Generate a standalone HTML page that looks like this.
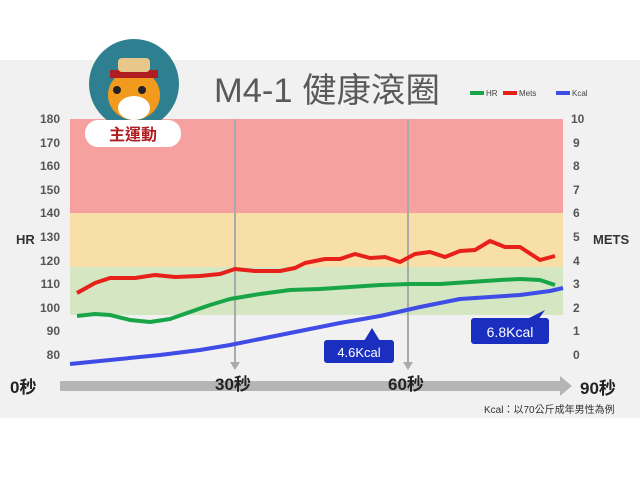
<!DOCTYPE html><html><head><meta charset="utf-8"><style>body{margin:0;width:640px;height:480px;background:#fff;overflow:hidden}</style></head><body>
<svg width="640" height="480" xmlns="http://www.w3.org/2000/svg" style="font-family:'Liberation Sans','Noto Sans CJK TC',sans-serif">
<rect x="0" y="60" width="640" height="358" fill="#f1f1f1"/>
<rect x="70" y="119" width="493" height="94" fill="#f6a0a0"/>
<rect x="70" y="213" width="493" height="54" fill="#f8dfa8"/>
<rect x="70" y="267" width="493" height="48" fill="#d5e6c3"/>
<g fill="#555" font-size="12" font-weight="bold" text-anchor="end">
<text x="60" y="123">180</text><text x="60" y="147">170</text><text x="60" y="170">160</text><text x="60" y="194">150</text><text x="60" y="217">140</text><text x="60" y="241">130</text><text x="60" y="265">120</text><text x="60" y="288">110</text><text x="60" y="312">100</text><text x="60" y="335">90</text><text x="60" y="359">80</text></g>
<g fill="#555" font-size="12" font-weight="bold">
<text x="571" y="123">10</text><text x="573" y="147">9</text><text x="573" y="170">8</text><text x="573" y="194">7</text><text x="573" y="217">6</text><text x="573" y="241">5</text><text x="573" y="265">4</text><text x="573" y="288">3</text><text x="573" y="312">2</text><text x="573" y="335">1</text><text x="573" y="359">0</text></g>
<text x="16" y="244" font-size="13" font-weight="bold" fill="#333">HR</text>
<text x="593" y="244" font-size="13" font-weight="bold" fill="#333">METS</text>
<g stroke="#aaa" stroke-width="2"><line x1="235" y1="119" x2="235" y2="364"/><line x1="408" y1="119" x2="408" y2="364"/></g>
<polygon points="230,362 240,362 235,370" fill="#aaa"/><polygon points="403,362 413,362 408,370" fill="#aaa"/>
<polyline fill="none" stroke="#e8201a" stroke-width="4" stroke-linejoin="round" points="77,293 95,283 110,278 135,278 155,275 175,277 200,276 220,274 235,269 255,271 280,271 295,268 305,263 325,259 340,259 355,254 370,258 385,257 400,262 415,254 430,252 445,257 460,251 475,250 490,241 505,247 520,247 540,260 555,256"/>
<polyline fill="none" stroke="#18a548" stroke-width="4" stroke-linejoin="round" points="77,316 95,314 110,315 130,320 150,322 170,319 190,312 210,305 230,299 260,294 290,290 320,289 350,287 380,285 410,284 440,284 470,282 500,280 520,279 540,280 555,285"/>
<polyline fill="none" stroke="#3f4de6" stroke-width="4" stroke-linejoin="round" points="70,364 120,359 160,355 200,350 230,345 260,339 300,331 340,323 380,316 420,307 460,299 490,297 520,295 550,291 563,288"/>
<polygon points="60,381 560,381 560,376 572,386 560,396 560,391 60,391" fill="#b5b5b5"/>
<g font-size="17" font-weight="bold" fill="#222"><text x="10" y="393">0秒</text><text x="215" y="390">30秒</text><text x="388" y="390">60秒</text><text x="580" y="394">90秒</text></g>
<text x="484" y="413" font-size="10" fill="#333">Kcal：以70公斤成年男性為例</text>
<polygon points="364,341 372,328 380,341" fill="#1a2fc0"/>
<rect x="324" y="340" width="70" height="23" rx="3" fill="#1a2fc0"/>
<text x="359" y="357" font-size="13" fill="#fff" text-anchor="middle">4.6Kcal</text>
<polygon points="525,320 545,310 538,320" fill="#1a2fc0"/>
<rect x="471" y="318" width="78" height="26" rx="3" fill="#1a2fc0"/>
<text x="510" y="337" font-size="14" fill="#fff" text-anchor="middle">6.8Kcal</text>
<text x="214" y="102" font-size="34" fill="#595959" textLength="226" lengthAdjust="spacingAndGlyphs">M4-1  健康滾圈</text>
<g font-size="8" fill="#444"><rect x="470" y="91" width="14" height="4" fill="#18a548"/><text x="486" y="96">HR</text><rect x="503" y="91" width="14" height="4" fill="#e8201a"/><text x="519" y="96">Mets</text><rect x="556" y="91" width="14" height="4" fill="#3f4de6"/><text x="572" y="96">Kcal</text></g>
<circle cx="134" cy="84" r="45" fill="#2e7f8f"/>
<ellipse cx="134" cy="95" rx="26" ry="25" fill="#f19a1e"/>
<ellipse cx="134" cy="108" rx="16" ry="12" fill="#fff"/>
<rect x="110" y="70" width="48" height="8" fill="#b01e22"/><rect x="118" y="58" width="32" height="14" rx="4" fill="#e8c88a"/>
<circle cx="117" cy="90" r="4" fill="#222"/><circle cx="142" cy="90" r="4" fill="#222"/>
<rect x="85" y="120" width="96" height="27" rx="13" fill="#fff"/>
<text x="133" y="140" font-size="16" font-weight="bold" fill="#b01e22" text-anchor="middle">主運動</text>
</svg></body></html>
